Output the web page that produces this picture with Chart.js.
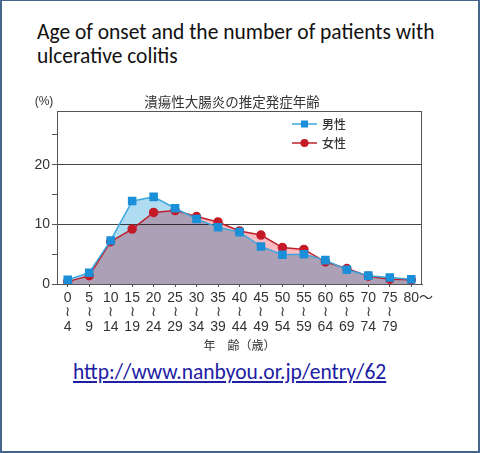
<!DOCTYPE html>
<html>
<head>
<meta charset="utf-8">
<script src="https://cdn.jsdelivr.net/npm/chart.js@4"></script>
<style>
  html, body { margin: 0; padding: 0; background: #fff; }
  #slide {
    position: relative; width: 480px; height: 453px; box-sizing: border-box;
    border: 2px solid #46678c; border-top-width: 1px; overflow: hidden;
  }
  #heading {
    position: absolute; left: 35px; top: 19px; white-space: nowrap;
    font: 21.5px/24px Carlito, Lato, sans-serif; color: #111;
  }
  #chartBox { position: absolute; left: -2px; top: 84px; width: 480px; height: 270px; }
  #source {
    position: absolute; left: 71px; top: 358px;
    font: 21.5px Carlito, Lato, sans-serif; color: #2020a4; text-decoration: underline;
  }
</style>
</head>
<body>
<div id="slide">
  <div id="heading">Age of onset and the number of patients with<br>ulcerative colitis</div>
  <div id="chartBox"><canvas id="chart"></canvas></div>
  <div id="source">http://www.nanbyou.or.jp/entry/62</div>
</div>
<script>
// age bands, in %
const ageLabels = [
  ['0', '≀', '4'], ['5', '≀', '9'], ['10', '≀', '14'], ['15', '≀', '19'],
  ['20', '≀', '24'], ['25', '≀', '29'], ['30', '≀', '34'], ['35', '≀', '39'],
  ['40', '≀', '44'], ['45', '≀', '49'], ['50', '≀', '54'], ['55', '≀', '59'],
  ['60', '≀', '64'], ['65', '≀', '69'], ['70', '≀', '74'], ['75', '≀', '79'],
  ['\u300080〜'],
];
const male   = [0.7, 1.9, 7.3, 13.9, 14.6, 12.7, 10.9, 9.5, 8.7, 6.3, 4.9, 5.0, 4.0, 2.4, 1.4, 1.1, 0.8];
const female = [0.4, 1.4, 7.1, 9.2, 12.0, 12.3, 11.3, 10.4, 8.9, 8.2, 6.1, 5.8, 3.7, 2.6, 1.3, 0.8, 0.7];
const yTicks = [0, 10, 20];
const seriesNames = ['男性', '女性'];
const chartTitle = '潰瘍性大腸炎の推定発症年齢';
const xTitle = '年　齢（歳）';

const BLUE_LINE = '#3da7e0', BLUE_MARK = '#1b8fd8', BLUE_FILL = '#b0dcf2';
const RED_LINE = '#c0202c', RED_MARK = '#c41a28', RED_FILL = '#fabac0';
const INK = '#333';

/* fills multiply like the original (overlap turns mauve) */
const blendFills = {
  id: 'blendFills',
  beforeDraw(chart) { chart.ctx.globalCompositeOperation = 'multiply'; },
  beforeDatasetsDraw(chart) { chart.ctx.globalCompositeOperation = 'source-over'; },
  afterDraw(chart) { chart.ctx.globalCompositeOperation = 'source-over'; },
};

/* frame, title, unit label and in-plot legend */
const decor = {
  id: 'decor',
  afterDatasetsDraw(chart) {
    const { ctx, chartArea: a } = chart;
    ctx.save();
    ctx.strokeStyle = '#555';
    ctx.lineWidth = 1;
    ctx.strokeRect(a.left + 0.5, a.top + 0.5, a.right - a.left - 1, a.bottom - a.top);

    ctx.fillStyle = INK;
    ctx.textBaseline = 'middle';
    ctx.textAlign = 'center';
    ctx.font = '13.5px "Noto Sans CJK JP"';
    ctx.fillText(chartTitle, 232, 17);
    ctx.font = '12px "Liberation Sans"';
    ctx.fillText('(%)', 44, 17);

    const rows = [
      { name: seriesNames[0], line: BLUE_LINE, mark: BLUE_MARK, square: true, y: 39 },
      { name: seriesNames[1], line: RED_LINE, mark: RED_MARK, square: false, y: 58 },
    ];
    ctx.textAlign = 'left';
    ctx.font = '500 12px "Noto Sans CJK JP"';
    rows.forEach(r => {
      ctx.strokeStyle = r.line;
      ctx.lineWidth = 1.5;
      ctx.beginPath();
      ctx.moveTo(292, r.y);
      ctx.lineTo(317, r.y);
      ctx.stroke();
      ctx.fillStyle = r.mark;
      if (r.square) ctx.fillRect(301, r.y - 3.5, 7, 7);
      else { ctx.beginPath(); ctx.arc(304.5, r.y, 4, 0, Math.PI * 2); ctx.fill(); }
      ctx.fillStyle = INK;
      ctx.fillText(r.name, 322, r.y);
    });
    ctx.restore();
  },
};

new Chart(document.getElementById('chart'), {
  type: 'line',
  data: {
    labels: ageLabels,
    datasets: [
      {
        label: seriesNames[0], data: male,
        borderColor: BLUE_LINE, backgroundColor: BLUE_FILL, fill: 'origin',
        borderWidth: 1.5, tension: 0,
        pointStyle: 'rect', pointRadius: 5, pointBackgroundColor: BLUE_MARK, pointBorderColor: BLUE_MARK,
      },
      {
        label: seriesNames[1], data: female,
        borderColor: RED_LINE, backgroundColor: RED_FILL, fill: 'origin',
        borderWidth: 1.5, tension: 0,
        pointStyle: 'circle', pointRadius: 4, pointBackgroundColor: RED_MARK, pointBorderColor: RED_MARK,
      },
    ],
  },
  options: {
    responsive: true,
    maintainAspectRatio: false,
    animation: false,
    layout: { padding: { top: 26, right: 58, left: 0, bottom: 0 } },
    plugins: {
      legend: { display: false },
      title: { display: false },
      tooltip: { enabled: false },
      filler: { drawTime: 'beforeDatasetsDraw' },
    },
    scales: {
      x: {
        offset: true,
        grid: { display: true, drawOnChartArea: false, tickLength: 3, tickColor: '#555' },
        border: { color: '#555' },
        ticks: {
          color: INK, padding: 4, maxRotation: 0, autoSkip: false,
          font: { family: '"Liberation Sans", "Noto Sans CJK JP"', size: 14, lineHeight: 1.03 },
        },
        title: {
          display: true, text: xTitle, color: INK, padding: { top: 0, bottom: 2 },
          font: { family: '"Noto Sans CJK JP"', size: 12, lineHeight: 1.3 },
        },
        afterFit(scale) { scale.height = 71; },
      },
      y: {
        min: 0, max: 29,
        afterBuildTicks(scale) {
          scale.ticks = scale.ticks.filter(t => t.value % 5 === 0);
        },
        ticks: {
          stepSize: 5, color: INK, padding: 2,
          font: { family: '"Liberation Sans"', size: 14 },
          callback: v => (yTicks.includes(v) ? v : ''),
        },
        grid: {
          color: c => (c.tick && (c.tick.value === 10 || c.tick.value === 20) ? '#444' : 'rgba(0,0,0,0)'),
          tickColor: '#555', tickLength: 5, lineWidth: 1,
        },
        border: { color: '#555' },
        afterFit(scale) { scale.width = 57; },
      },
    },
  },
  plugins: [blendFills, decor],
});
</script>
</body>
</html>
